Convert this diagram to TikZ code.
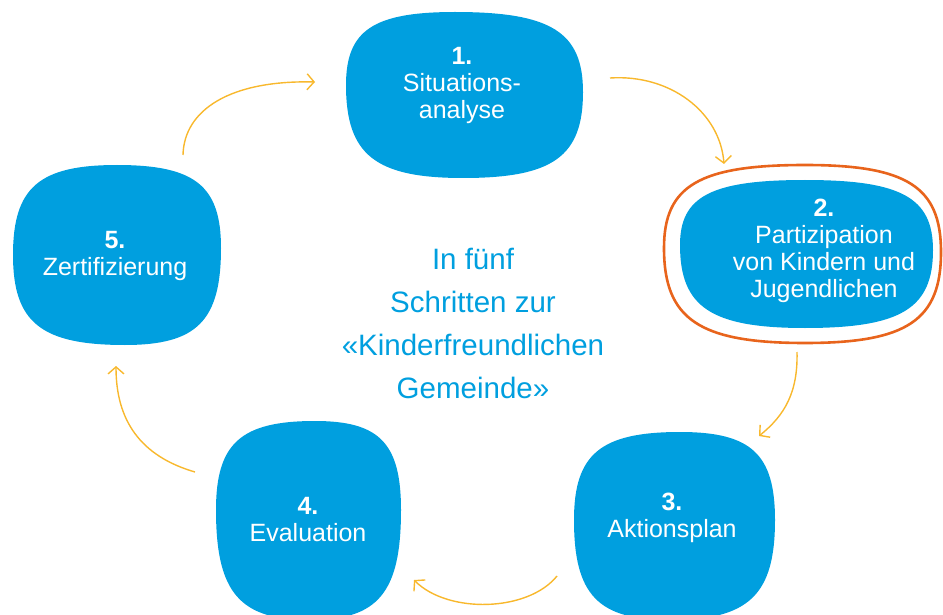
\documentclass[tikz,border=0pt]{standalone}
\usepackage{fontspec}
\setmainfont{Liberation Sans}
\usetikzlibrary{arrows.meta}
\definecolor{ublue}{RGB}{0,159,223}
\definecolor{uyellow}{RGB}{248,184,45}
\definecolor{uorange}{RGB}{232,100,28}
\def\blobk{0.75}
% top (#1,#2), right (#3,#4), bottom (#5,#6), left (#7,#8)
\newcommand{\blobpath}[8]{(#1,#2) .. controls ({#1+\blobk*(#3-#1)},#2) and (#3,{#4-\blobk*(#4-#2)}) .. (#3,#4) .. controls (#3,{#4+\blobk*(#6-#4)}) and ({#5+\blobk*(#3-#5)},#6) .. (#5,#6) .. controls ({#5-\blobk*(#5-#7)},#6) and (#7,{#8+\blobk*(#6-#8)}) .. (#7,#8) .. controls (#7,{#8-\blobk*(#8-#2)}) and ({#1-\blobk*(#1-#7)},#2) .. cycle}
\begin{document}
\begin{tikzpicture}[x=1pt,y=-1pt,
  blob/.style={fill=ublue,draw=none},
  ring/.style={draw=uorange,line width=2.6pt},
  steptext/.style={text=white,align=center,font=\fontsize{25}{27}\selectfont},
  centertext/.style={text=ublue,align=center,font=\fontsize{29.5}{43}\selectfont},
  flow/.style={draw=uyellow,line width=1.4pt,-{Straight Barb[length=7pt,width=16pt]}}]
\useasboundingbox (0,0) rectangle (943,615);
% blobs
\fill[blob] \blobpath{455}{12}{583}{92}{463}{178}{346}{85};
\draw[ring] \blobpath{805}{165}{941}{252}{805}{343}{664}{248};
\fill[blob] \blobpath{805}{180}{933}{250}{805}{328}{680}{245};
\fill[blob] \blobpath{680}{432}{775}{520}{670}{620}{574}{520};
\fill[blob] \blobpath{315}{421}{401}{510}{310}{620}{216}{510};
\fill[blob] \blobpath{117}{165}{221}{248}{125}{345}{13}{255};
% texts
\node[steptext] (s1) at (462,85) {\textbf{1.}\\Situations-\\analyse};
\node[steptext] (s2) at (824,251) {\textbf{2.}\\Partizipation\\von Kindern und\\Jugendlichen};
\node[steptext] (s3) at (672,518) {\textbf{3.}\\Aktionsplan};
\node[steptext] (s4) at (308,520) {\textbf{4.}\\Evaluation};
\node[steptext] (s5) at (115,256) {\textbf{5.}\\Zertifizierung};
\node[centertext] (c) at (473,323) {In fünf\\Schritten zur\\«Kinderfreundlichen\\Gemeinde»};
% arrow endpoints
\coordinate (a1s) at (183,155); \coordinate (a1e) at (315,82);
\coordinate (a2s) at (610,78);  \coordinate (a2e) at (724,164);
\coordinate (a3s) at (797,352); \coordinate (a3e) at (759,436);
\coordinate (a4s) at (557,576); \coordinate (a4e) at (414,580);
\coordinate (a5s) at (195,472); \coordinate (a5e) at (116,366);
\draw[flow] (a1s) .. controls (184,110) and (230,80) .. (a1e);
\draw[flow] (a2s) .. controls (670,74) and (720,112) .. (a2e);
\draw[flow] (a3s) .. controls (798,392) and (785,415) .. (a3e);
\draw[flow] (a4s) .. controls (528,612) and (448,614) .. (a4e);
\draw[flow] (a5s) .. controls (140,456) and (116,420) .. (a5e);
\end{tikzpicture}
\end{document}
